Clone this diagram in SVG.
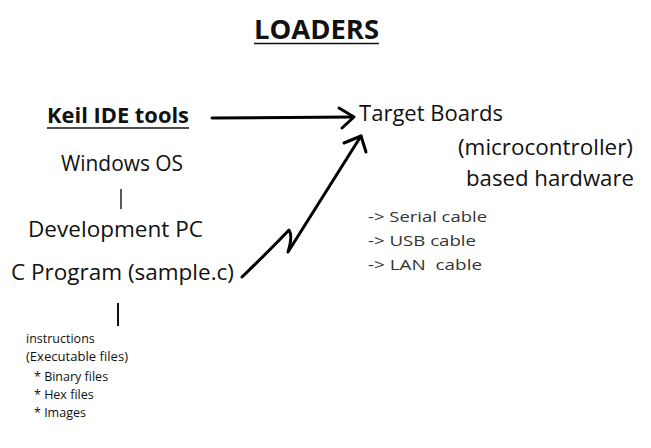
<svg xmlns="http://www.w3.org/2000/svg" width="651" height="448" viewBox="0 0 651 448">
<style>
text{font-family:"Open Sans","Noto Sans","DejaVu Sans",sans-serif;fill:#111}
.big{font-size:21px}
.mid{font-size:14px;fill:#333}
.sm{font-size:12.5px}
.ln{stroke:#000;stroke-width:3;fill:none;stroke-linecap:round;stroke-linejoin:round}
</style>
<rect width="651" height="448" fill="#fff"/>
<g id="title">
<text x="254" y="39" font-size="26" font-weight="bold" textLength="125" lengthAdjust="spacingAndGlyphs">LOADERS</text>
<line x1="254" y1="43.5" x2="379" y2="43.5" stroke="#111" stroke-width="1.5"/>
</g>
<g id="keil">
<text class="big" x="47" y="123" font-weight="bold" textLength="142" lengthAdjust="spacingAndGlyphs">Keil IDE tools</text>
<line x1="47" y1="128" x2="189" y2="128" stroke="#111" stroke-width="1.3"/>
</g>
<g id="target">
<text class="big" x="359" y="121" textLength="144" lengthAdjust="spacingAndGlyphs">Target Boards</text>
<text class="big" x="458" y="155" textLength="175" lengthAdjust="spacingAndGlyphs">(microcontroller)</text>
<text class="big" x="466" y="186" textLength="168" lengthAdjust="spacingAndGlyphs">based hardware</text>
</g>
<g id="cables">
<text class="mid" x="368" y="222" textLength="119" lengthAdjust="spacingAndGlyphs">-&gt; Serial cable</text>
<text class="mid" x="368" y="246" textLength="108" lengthAdjust="spacingAndGlyphs">-&gt; USB cable</text>
<text class="mid" x="368" y="270" textLength="114" lengthAdjust="spacingAndGlyphs" xml:space="preserve">-&gt; LAN  cable</text>
</g>
<g id="pc">
<text class="big" x="61" y="171" textLength="122" lengthAdjust="spacingAndGlyphs">Windows OS</text>
<line x1="121" y1="189" x2="121" y2="209" stroke="#222" stroke-width="1.5"/>
<text class="big" x="28" y="237" textLength="175" lengthAdjust="spacingAndGlyphs">Development PC</text>
</g>
<g id="cprog">
<text class="big" x="11" y="280" textLength="223" lengthAdjust="spacingAndGlyphs">C Program (sample.c)</text>
<line x1="118" y1="303" x2="118" y2="326" stroke="#111" stroke-width="2"/>
</g>
<g id="instructions">
<text class="sm" x="26" y="343">instructions</text>
<text class="sm" x="26" y="361" textLength="102" lengthAdjust="spacingAndGlyphs">(Executable files)</text>
<text class="sm" x="34" y="381">* Binary files</text>
<text class="sm" x="34" y="399">* Hex files</text>
<text class="sm" x="34" y="417">* Images</text>
</g>
<g id="connectors">
<path class="ln" d="M212 118 L353 117"/>
<path class="ln" d="M339 108 L354 117 L342 128"/>
<path class="ln" d="M242 277 Q270 250 289 230 Q293 236 288 252 L361 136"/>
<path class="ln" d="M344 143 L361 136 L366 152"/>
</g>
</svg>
